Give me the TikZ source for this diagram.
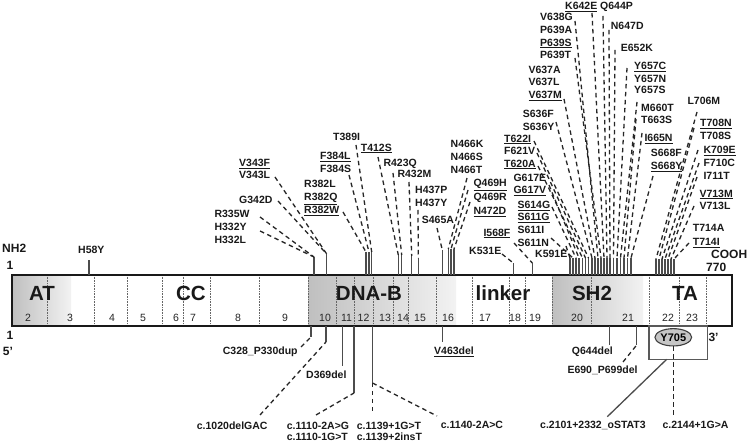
\documentclass[tikz,border=0pt]{standalone}
\usepackage{fontspec}
\setmainfont{Liberation Sans}
\usetikzlibrary{shapes.geometric}
\tikzset{
 mut/.style={font=\fontsize{10.5}{12}\selectfont\bfseries, inner sep=0pt, text=black!90},
 exn/.style={font=\fontsize{10.5}{12}\selectfont, inner sep=0pt, text=black!85},
 dom/.style={font=\fontsize{20.5}{24}\selectfont\bfseries, inner sep=0pt, text=black!90},
 term/.style={font=\fontsize{12}{14}\selectfont\bfseries, inner sep=0pt, text=black!90},
 stubl/.style={draw=black!70, line width=1.3pt},
 dsh/.style={draw=black!85, line width=1.3pt, dash pattern=on 4.5pt off 3.5pt},
 exl/.style={draw=black!60, line width=0.7pt, dash pattern=on 0.8pt off 0.8pt},
 boxl/.style={draw=black!65, line width=1.4pt},
 shd/.style={left color=gray!50, right color=gray!10},
}
\newcommand\ml[4]{\node[mut,anchor=base west] (#1) at (#2,#3+3.8) {#4};}
\newcommand\ulx[1]{\underline{#1}}
\newcommand\tcon[5]{\coordinate (#1b) at (#2,275); \coordinate (#1t) at (#2,#3); \coordinate (#1s) at (#4,#5); \draw[stubl] (#1b) -- (#1t); \draw[dsh] (#1s) -- (#1t);}
\begin{document}
\begin{tikzpicture}[x=1pt,y=-1pt]
\useasboundingbox (0,0) rectangle (750,443);
\fill[white] (0,0) rectangle (750,443);
% shaded domains
\fill[shd] (12,275) rectangle (71,326);
\fill[shd] (308.3,275) rectangle (456,326);
\fill[shd] (552.5,275) rectangle (643,326);
% exon boundaries
\foreach \x in {47.7,94.3,127.7,162.3,183.3,210.7,259.5,308.3,336,354.3,373,393.5,408.5,436.7,472.5,509,525,552.5,591.7,649,679.5,706.7}
  \draw[exl] (\x,275) -- (\x,326);
\draw[line width=1.6pt, draw=black!90] (12,275) rectangle (732,326);
% exon numbers
\foreach \n/\x in {2/28,3/70,4/112,5/143,6/176,7/193,8/238,9/285,10/325,11/346.5,12/363.5,13/385,14/403,15/420,16/448,17/485,18/515,19/535,20/577,21/628,22/668,23/692}
  \node[exn, anchor=base] (ex\n) at (\x,321.8) {\n};
% domains
\node[dom, anchor=base] (dAT) at (42,301) {AT};
\node[dom, anchor=base] (dCC) at (191,301) {CC};
\node[dom, anchor=base] (dDNA) at (369,301) {DNA-B};
\node[dom, anchor=base] (dLK) at (503,301) {linker};
\node[dom, anchor=base] (dSH) at (592,301) {SH2};
\node[dom, anchor=base] (dTA) at (685,301) {TA};
% termini
\node[term, anchor=base west] (nh2) at (2,252.3) {NH2};
\node[term, anchor=base] (one1) at (10,269.3) {1};
\node[term, anchor=base] (one2) at (10,339.3) {1};
\node[term, anchor=base] (p5) at (8,356) {5’};
\node[term, anchor=base west] (cooh) at (711,258.6) {COOH};
\node[term, anchor=base west] (n770) at (706,272) {770};
\node[term, anchor=base west] (p3) at (708.3,341.6) {3’};
% top labels
\ml{h58}{78}{249.3}{H58Y}
\coordinate (h58b) at (89,275); \coordinate (h58t) at (89,260); \draw[stubl] (h58b) -- (h58t);
\ml{r335}{214.3}{213.3}{R335W}
\ml{h332y}{214.3}{226.7}{H332Y}
\ml{h332l}{214.3}{240}{H332L}
\ml{g342}{239}{199.3}{G342D}
\ml{v343f}{239}{162.7}{\ulx{V343F}}
\ml{v343l}{239}{175}{V343L}
\ml{r382l}{304}{183.3}{R382L}
\ml{r382q}{304}{196.7}{\ulx{R382Q}}
\ml{r382w}{304}{210}{\ulx{R382W}}
\ml{f384l}{320}{155.7}{\ulx{F384L}}
\ml{f384s}{320}{169}{F384S}
\ml{t389}{333}{136.7}{T389I}
\ml{t412}{360.7}{147.3}{\ulx{T412S}}
\ml{r423}{383.3}{162.3}{R423Q}
\ml{r432}{397.3}{174}{R432M}
\ml{h437p}{415}{190}{H437P}
\ml{h437y}{415}{202.7}{H437Y}
\ml{s465}{421.7}{220}{S465A}
\ml{n466k}{450.5}{143.3}{N466K}
\ml{n466s}{450.5}{156.7}{N466S}
\ml{n466t}{450.5}{169.3}{N466T}
\ml{q469h}{473.3}{182.7}{\ulx{Q469H}}
\ml{q469r}{473.3}{196.7}{Q469R}
\ml{n472}{473.3}{211}{\ulx{N472D}}
\ml{i568}{483.3}{232.3}{\ulx{I568F}}
\ml{k531}{469}{250.7}{K531E}
\ml{k591}{535}{254}{K591E}
\ml{s614}{517.3}{205}{\ulx{S614G}}
\ml{s611g}{517.3}{217}{\ulx{S611G}}
\ml{s611i}{517.3}{230}{S611I}
\ml{s611n}{517.3}{242.3}{S611N}
\ml{g617e}{513.3}{177.7}{G617E}
\ml{g617v}{513.3}{190}{\ulx{G617V}}
\ml{t622}{504}{138.3}{\ulx{T622I}}
\ml{f621}{504}{150.3}{F621V}
\ml{t620}{504}{163.3}{\ulx{T620A}}
\ml{s636f}{522.7}{114}{S636F}
\ml{s636y}{522.7}{126.7}{S636Y}
\ml{v637a}{528.3}{70}{V637A}
\ml{v637l}{528.3}{82}{V637L}
\ml{v637m}{528.3}{95}{\ulx{V637M}}
\ml{v638}{540}{16.7}{V638G}
\ml{p639a}{540}{30}{P639A}
\ml{p639s}{540}{42.3}{\ulx{P639S}}
\ml{p639t}{540}{54.3}{P639T}
\ml{k642}{565}{5.7}{\ulx{K642E}}
\ml{q644}{600}{5.7}{Q644P}
\ml{n647}{610.7}{25.7}{N647D}
\ml{e652}{620.7}{47.7}{E652K}
\ml{y657c}{634}{65.7}{\ulx{Y657C}}
\ml{y657n}{634}{78.3}{Y657N}
\ml{y657s}{634}{90}{Y657S}
\ml{m660}{641}{107.7}{M660T}
\ml{t663}{641}{120}{T663S}
\ml{i665}{644.3}{137.7}{\ulx{I665N}}
\ml{s668f}{650.7}{152.3}{S668F}
\ml{s668y}{650.7}{166}{\ulx{S668Y}}
\ml{l706}{687.3}{101}{L706M}
\ml{t708n}{700}{122.7}{\ulx{T708N}}
\ml{t708s}{700}{136}{T708S}
\ml{k709}{703.3}{150}{\ulx{K709E}}
\ml{f710}{703.3}{162.7}{F710C}
\ml{i711}{703.3}{175.7}{I711T}
\ml{v713m}{699.3}{193.3}{\ulx{V713M}}
\ml{v713l}{699.3}{206}{V713L}
\ml{t714a}{692.7}{227.7}{T714A}
\ml{t714i}{692.7}{241.7}{\ulx{T714I}}
% top connectors
\tcon{a1}{314}{257}{260}{217}
\coordinate (a1u) at (260,231); \draw[dsh] (a1u) -- (a1t);
\tcon{a2}{326.7}{254}{278}{201}
\coordinate (a2u) at (275,177); \draw[dsh] (a2u) -- (a2t);
\tcon{b1}{366}{252}{343}{212}
\tcon{b2}{369}{252}{349}{175}
\tcon{b3}{371.7}{252}{356}{145}
\tcon{c1}{398.3}{255}{378}{157}
\tcon{c2}{401.7}{255}{393}{173}
\tcon{c3}{411.7}{256}{409}{182}
\tcon{c4}{418.3}{258}{418}{210}
\tcon{d1}{442.3}{250}{437}{228}
\tcon{d2}{448.3}{249}{467}{178}
\tcon{d3}{451}{249}{468}{190}
\tcon{d4}{454}{249}{470}{202}
\tcon{e1}{513.3}{263}{502}{254}
\tcon{e2}{532.3}{263}{514}{243}
\tcon{f1}{570}{258}{566}{246}
\tcon{f2}{573}{258}{551}{238}
\tcon{f3}{576}{258}{552}{207}
\tcon{f4}{579}{258}{549}{185}
\tcon{f5}{582.5}{258}{538}{166}
\tcon{f6}{585.5}{258}{537}{153}
\tcon{f7}{588.5}{258}{534}{141}
\tcon{f8}{592}{258}{556}{122}
\tcon{f9}{595}{258}{564}{99}
\tcon{f10}{598}{258}{575}{21}
\tcon{f11}{601}{258}{575}{58}
\tcon{f12}{604}{258}{592}{13}
\tcon{f13}{607}{258}{603}{16}
\tcon{f14}{610}{258}{609}{30}
\tcon{f15}{613.5}{258}{615}{50}
\tcon{f16}{617}{258}{627}{68}
\tcon{f17}{620.5}{258}{637}{102}
\tcon{f18}{624}{258}{636}{119}
\tcon{f19}{627.5}{258}{642}{133}
\tcon{f20}{631}{258}{653}{176}
\tcon{g1}{656}{259}{697}{112}
\tcon{g2}{659}{259}{694}{128}
\tcon{g3}{662}{259}{698}{150}
\tcon{g4}{665}{259}{699}{163}
\tcon{g5}{668}{259}{697}{177}
\tcon{g6}{671}{259}{694}{206}
\tcon{g7}{674}{259}{689}{243}
% bottom labels
\ml{c328}{222.7}{351}{C328\_P330dup}
\ml{d369}{306}{375}{D369del}
\ml{c1020}{196.7}{425.7}{c.1020delGAC}
\ml{c1110a}{286.7}{425.7}{c.1110-2A>G}
\ml{c1110b}{286.7}{436.7}{c.1110-1G>T}
\ml{c1139a}{356.7}{425.7}{c.1139+1G>T}
\ml{c1139b}{356.7}{436.7}{c.1139+2insT}
\ml{c1140}{440.7}{424.3}{c.1140-2A>C}
\ml{v463}{434}{351}{\ulx{V463del}}
\ml{q644d}{571.7}{351}{Q644del}
\ml{e690}{567.3}{369.3}{E690\_P699del}
\ml{c2101}{540}{424.3}{c.2101+2332\_oSTAT3}
\ml{c2144}{662.3}{424.3}{c.2144+1G>A}
% bottom connectors
\coordinate (k1b) at (311,326); \coordinate (k1t) at (311,337); \coordinate (k1s) at (301,347);
\draw[stubl] (k1b) -- (k1t); \draw[dsh] (k1s) -- (k1t);
\coordinate (k2b) at (326,326); \coordinate (k2t) at (326,342); \coordinate (k2s) at (260,415);
\draw[stubl] (k2b) -- (k2t); \draw[dsh] (k2s) -- (k2t);
\coordinate (k3b) at (342.7,326); \coordinate (k3t) at (342.7,366);
\draw[stubl] (k3b) -- (k3t);
\coordinate (k4b) at (354,326); \coordinate (k4t) at (354,393); \coordinate (k4s) at (316,415);
\draw[stubl] (k4b) -- (k4t); \draw[dsh] (k4s) -- (k4t);
\coordinate (k5b) at (372.5,326); \coordinate (k5t) at (372.5,383); \coordinate (k5s) at (372.5,415); \coordinate (k5r) at (437,416);
\draw[stubl] (k5b) -- (k5t); \draw[dsh] (k5t) -- (k5s); \draw[dsh] (k5t) -- (k5r);
\coordinate (k6b) at (442.3,326); \coordinate (k6t) at (442.3,342);
\draw[stubl] (k6b) -- (k6t);
\coordinate (k7b) at (609.3,326); \coordinate (k7t) at (609.3,345);
\draw[stubl] (k7b) -- (k7t);
\coordinate (k8b) at (636.7,326); \coordinate (k8t) at (636.7,345); \coordinate (k8s) at (623,362);
\draw[stubl] (k8b) -- (k8t); \draw[dsh] (k8s) -- (k8t);
% Y705 box
\coordinate (bx1) at (649,326); \coordinate (bx2) at (707.7,359.3);
\draw[boxl] (bx1) rectangle (bx2);
\node[ellipse, draw=black!75, line width=1.1pt, fill=gray!45, minimum width=36.7pt, minimum height=17.3pt, inner sep=0pt, font=\fontsize{11}{13}\selectfont\bfseries] (y705) at (673.3,337.3) {Y705};
\coordinate (bxo) at (666.7,359.3); \coordinate (bxe) at (607.3,416.7);
\draw[stubl] (bxo) -- (bxe);
\coordinate (yd) at (673.3,416);
\draw[dsh] (y705.south) -- (yd);
\end{tikzpicture}
\end{document}
